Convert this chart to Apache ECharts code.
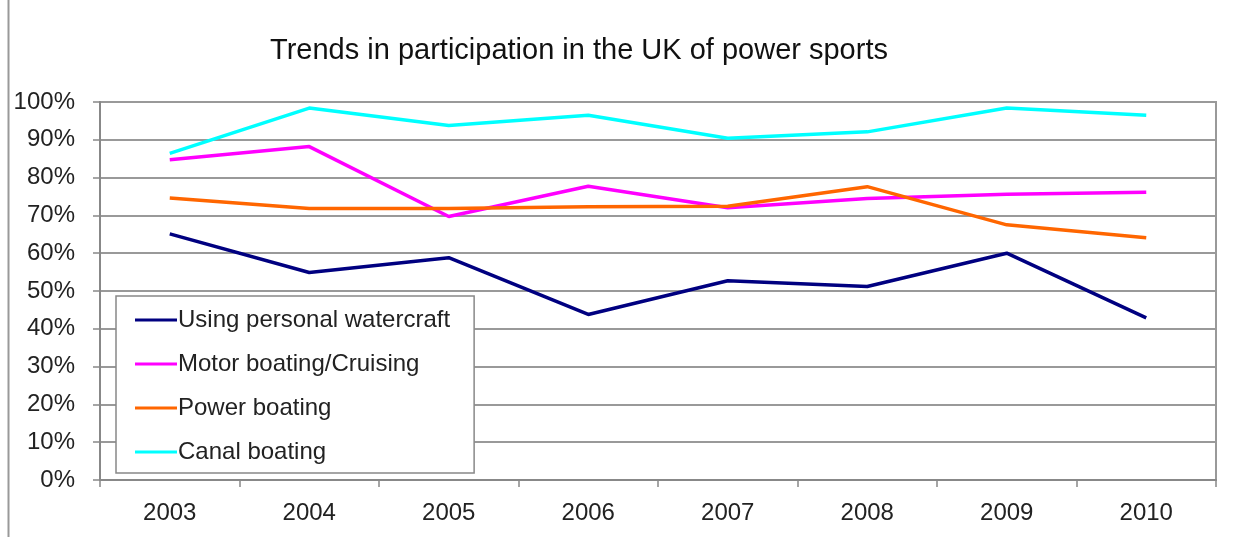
<!DOCTYPE html>
<html>
<head>
<meta charset="utf-8">
<script src="https://cdn.jsdelivr.net/npm/echarts@6/dist/echarts.min.js"></script>
<style>html,body{margin:0;padding:0;background:#fff;}#c{width:1245px;height:537px;}</style>
</head>
<body>
<div id="c"></div>
<script>
const years = ['2003','2004','2005','2006','2007','2008','2009','2010'];
const watercraft = [65.1, 54.9, 58.8, 43.8, 52.7, 51.2, 60.0, 42.9];
const motorBoating = [84.7, 88.2, 69.7, 77.7, 72.0, 74.5, 75.6, 76.1];
const powerBoating = [74.6, 71.8, 71.8, 72.3, 72.4, 77.6, 67.5, 64.1];
const canalBoating = [86.4, 98.4, 93.8, 96.5, 90.4, 92.1, 98.4, 96.5];
const seriesNames = ['Using personal watercraft','Motor boating/Cruising','Power boating','Canal boating'];
const colors = ['#000080','#FF00FF','#FF6600','#00FFFF'];

const font = 'Liberation Sans';
const chart = echarts.init(document.getElementById('c'));
const dataSets = [watercraft, motorBoating, powerBoating, canalBoating];
chart.setOption({
  animation: false,
  backgroundColor: '#fff',
  title: {
    text: 'Trends in participation in the UK of power sports',
    left: 574, top: 31, textAlign: 'center',
    textStyle: {fontFamily: font, fontSize: 29, fontWeight: 'normal', color: '#111'}
  },
  graphic: [{
    type: 'line', shape: {x1: 8.5, y1: 0, x2: 8.5, y2: 537},
    style: {stroke: '#999', lineWidth: 2}
  }],
  legend: {
    orient: 'vertical', left: 116, top: 296,
    padding: [12, 24, 9, 19],
    itemGap: 20, itemWidth: 42, itemHeight: 3,
    backgroundColor: '#fff', borderColor: '#888', borderWidth: 1.5,
    icon: 'rect',
    textStyle: {fontFamily: font, fontSize: 24, color: '#222', padding: [0,0,0,-4]},
    data: seriesNames
  },
  grid: {left: 100, right: 29, top: 102, bottom: 57, show: true, borderColor: '#999', borderWidth: 2},
  xAxis: {
    type: 'category', data: years, boundaryGap: true,
    axisLine: {lineStyle: {color: '#888', width: 2}},
    axisTick: {show: true, alignWithLabel: false, length: 7, lineStyle: {color: '#888', width: 1.5}},
    axisLabel: {fontFamily: font, fontSize: 24, color: '#222', margin: 21}
  },
  yAxis: {
    type: 'value', min: 0, max: 100, interval: 10,
    axisLine: {show: true, lineStyle: {color: '#888', width: 2}},
    axisTick: {show: true, length: 7, lineStyle: {color: '#888', width: 1.5}},
    axisLabel: {fontFamily: font, fontSize: 24, color: '#222', margin: 25, formatter: '{value}%'},
    splitLine: {lineStyle: {color: '#999', width: 2}}
  },
  series: dataSets.map((d, i) => ({
    name: seriesNames[i], type: 'line', data: d,
    symbol: 'none', lineStyle: {width: 3.5, color: colors[i]}, itemStyle: {color: colors[i]},
    z: 2 + i
  }))
});
</script>
</body>
</html>
